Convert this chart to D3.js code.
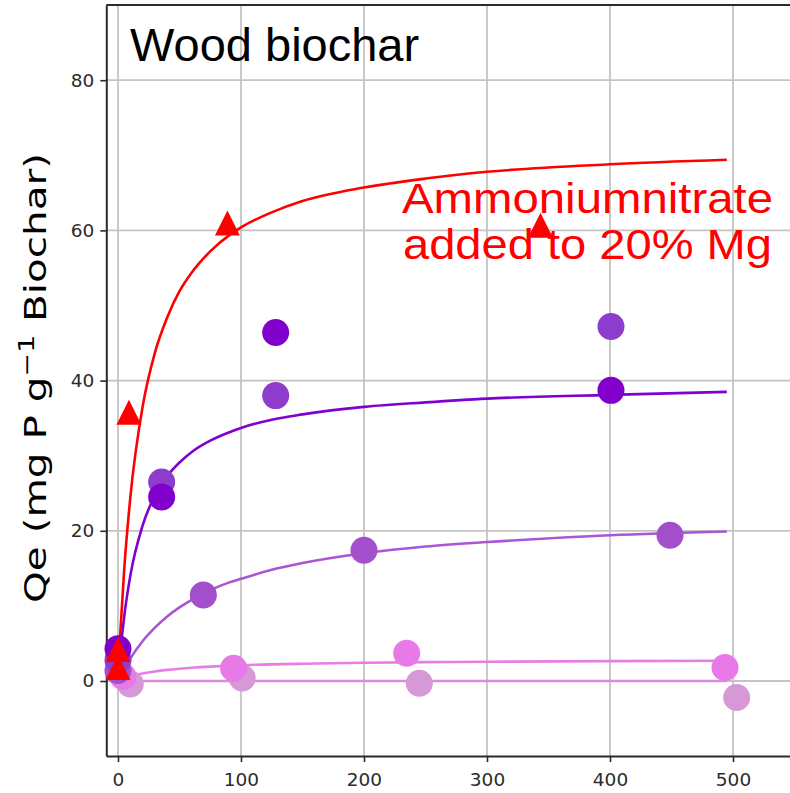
<!DOCTYPE html>
<html>
<head>
<meta charset="utf-8">
<script src="https://cdn.jsdelivr.net/npm/d3@7"></script>
<style>
  html, body { margin: 0; padding: 0; background: #fff; }
  svg { display: block; }
</style>
</head>
<body>
<svg id="chart" width="790" height="793"></svg>
<script>
// Phosphate adsorption on wood biochar: equilibrium concentration vs Qe

const xTicks = [0, 100, 200, 300, 400, 500];
const yTicks = [0, 20, 40, 60, 80];

// Ammonium nitrate added to 20% Mg (triangles)
const redX = [0, 0, 8.9, 89, 343.5];
const redY = [4.2, 1.8, 35.8, 61.0, 60.7];

// Dark violet replicates
const violetAX = [0, 35.5, 128.2, 400.8];
const violetAY = [4.3, 24.5, 46.4, 38.7];
const violetBX = [0, 35.5, 128.2, 400.8];
const violetBY = [2.8, 26.5, 38.0, 47.2];

// Medium orchid
const orchidX = [0, 69.4, 200, 448.8];
const orchidY = [1.4, 11.45, 17.4, 19.4];

// Light violet
const pinkX = [4, 94, 234.7, 493.5];
const pinkY = [0.6, 1.7, 3.7, 1.8];

// Plum
const plumX = [10, 101, 245, 503];
const plumY = [-0.4, 0.4, -0.3, -2.2];

// Fitted isotherm curves, read along the concentration axis
const curveX    = [0, 2, 5, 10, 20, 30, 40, 50, 60, 75, 90, 100, 125, 150, 200, 250, 300, 400, 495];
const redFit    = [0, 6.7, 14.7, 24.4, 36.5, 43.7, 48.4, 51.9, 54.4, 57.2, 59.3, 60.4, 62.4, 63.9, 65.7, 66.9, 67.8, 68.8, 69.4];
const violetFit = [0, 3.9, 8.5, 14.0, 20.7, 24.7, 27.3, 29.1, 30.5, 32.0, 33.1, 33.7, 34.8, 35.5, 36.5, 37.1, 37.6, 38.1, 38.5];
const orchidFit = [0, 0.67, 1.6, 3.0, 5.3, 7.1, 8.6, 9.8, 10.8, 12.1, 13.1, 13.6, 14.8, 15.7, 17.0, 17.9, 18.5, 19.4, 19.9];
const pinkFit   = [0, 0.14, 0.33, 0.6, 0.99, 1.27, 1.48, 1.64, 1.77, 1.92, 2.03, 2.1, 2.22, 2.3, 2.43, 2.51, 2.57, 2.65, 2.69];
const plumFit   = [0, 0, 0, 0, 0, 0, 0, 0, 0, 0, 0, 0, 0, 0, 0, 0, 0, 0, 0];

const svg = d3.select("#chart");

const x = d3.scaleLinear().domain([-9.5, 550]).range([106.3, 794.5]);
const y = d3.scaleLinear().domain([-10, 90]).range([756.1, 5.1]);

// grid
const grid = svg.append("g");
grid.selectAll("line.vx").data(xTicks).join("line")
  .attr("x1", d => x(d)).attr("x2", d => x(d))
  .attr("y1", y(90)).attr("y2", y(-10))
  .attr("stroke", "#c4c4c4").attr("stroke-width", 1.8);
grid.selectAll("line.hy").data(yTicks).join("line")
  .attr("x1", x(-9.5)).attr("x2", 790)
  .attr("y1", d => y(d)).attr("y2", d => y(d))
  .attr("stroke", "#c4c4c4").attr("stroke-width", 1.8);

// axes
const xAxis = d3.axisBottom(x).tickValues(xTicks).tickSize(6).tickPadding(11).tickSizeOuter(0);
const yAxis = d3.axisLeft(y).tickValues(yTicks).tickSize(6).tickPadding(6).tickSizeOuter(0);

const gx = svg.append("g").attr("transform", `translate(0,${y(-10)})`).call(xAxis);
const gy = svg.append("g").attr("transform", `translate(${x(-9.5)},0)`).call(yAxis);
[gx, gy].forEach(g => {
  g.select(".domain").attr("stroke", "#2b2b2b").attr("stroke-width", 2);
  g.selectAll(".tick line").attr("stroke", "#2b2b2b").attr("stroke-width", 1.6);
  g.selectAll(".tick text")
    .attr("fill", "#2b2b2b")
    .style("font-family", "'DejaVu Sans', sans-serif")
    .style("font-size", "18.5px");
});

// top spine
svg.append("line")
  .attr("x1", x(-9.5)).attr("x2", 790)
  .attr("y1", y(90)).attr("y2", y(90))
  .attr("stroke", "#2b2b2b").attr("stroke-width", 2);

// fitted curves
const line = d3.line().x(d => x(d[0])).y(d => y(d[1])).curve(d3.curveMonotoneX);
const fits = [
  { ys: plumFit,   color: "#dc8cdc" },
  { ys: pinkFit,   color: "#e67ee6" },
  { ys: orchidFit, color: "#aa55d2" },
  { ys: violetFit, color: "#8000d0" },
  { ys: redFit,    color: "#ff0000" }
];
const curves = svg.append("g");
fits.forEach(f => {
  curves.append("path")
    .datum(curveX.map((cx, i) => [cx, f.ys[i]]))
    .attr("d", line)
    .attr("fill", "none")
    .attr("stroke", f.color)
    .attr("stroke-width", 2.6);
});

// circle markers
const circleSets = [
  { xs: plumX,    ys: plumY,    color: "#d698d6" },
  { xs: pinkX,    ys: pinkY,    color: "#e87ae8" },
  { xs: orchidX,  ys: orchidY,  color: "#a34fcc" },
  { xs: violetBX, ys: violetBY, color: "#8e3ccb" },
  { xs: violetAX, ys: violetAY, color: "#8200cc" }
];
const dots = svg.append("g");
circleSets.forEach(s => {
  dots.selectAll(null)
    .data(s.xs.map((cx, i) => [cx, s.ys[i]]))
    .join("circle")
    .attr("cx", d => x(d[0]))
    .attr("cy", d => y(d[1]))
    .attr("r", 13.5)
    .attr("fill", s.color);
});

// upward triangle marker, centred at half its height
const triangle = {
  draw(ctx, size) {
    const h = Math.sqrt(size) / 2;
    ctx.moveTo(0, -h);
    ctx.lineTo(h, h);
    ctx.lineTo(-h, h);
    ctx.closePath();
  }
};
const tri = d3.symbol().type(triangle).size(625);
svg.append("g").selectAll("path")
  .data(redX.map((cx, i) => [cx, redY[i]]))
  .join("path")
  .attr("transform", d => `translate(${x(d[0])},${y(d[1])})`)
  .attr("d", tri)
  .attr("fill", "#ff0000");

// labels
svg.append("text")
  .attr("x", 130).attr("y", 61)
  .style("font-family", "'Liberation Sans', Arial, sans-serif")
  .style("font-size", "47px")
  .attr("fill", "#000")
  .text("Wood biochar");

const note = svg.append("g")
  .style("font-family", "'Liberation Sans', Arial, sans-serif")
  .style("font-size", "42px")
  .attr("fill", "#ff0000");
note.append("text").attr("x", 402).attr("y", 213)
  .attr("textLength", 371).attr("lengthAdjust", "spacingAndGlyphs")
  .text("Ammoniumnitrate");
note.append("text").attr("x", 403).attr("y", 259)
  .attr("textLength", 369).attr("lengthAdjust", "spacingAndGlyphs")
  .text("added to 20% Mg");

const ylab = svg.append("text")
  .attr("transform", "translate(46,378) rotate(-90) scale(1.35,1)")
  .attr("text-anchor", "middle")
  .style("font-family", "'DejaVu Sans', sans-serif")
  .style("font-size", "30px")
  .attr("fill", "#000");
ylab.append("tspan").text("Qe (mg P g");
ylab.append("tspan").attr("dy", -12).style("font-size", "21px").text("\u22121");
ylab.append("tspan").attr("dy", 12).text(" Biochar)");
</script>
</body>
</html>
